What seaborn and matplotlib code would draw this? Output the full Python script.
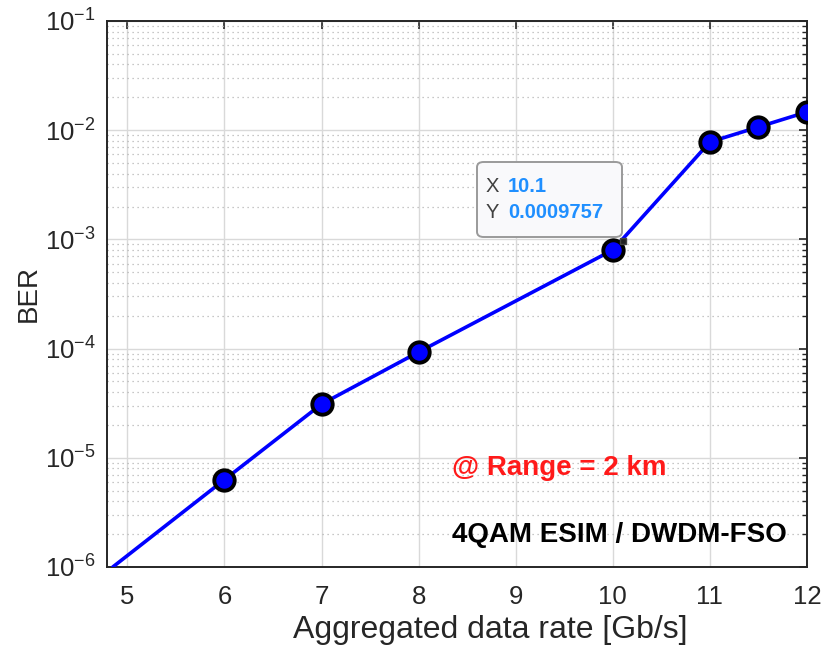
import numpy as np
import pandas as pd
import matplotlib
matplotlib.use("Agg")
import matplotlib.pyplot as plt
import seaborn as sns
from matplotlib.patches import FancyBboxPatch
from matplotlib.ticker import LogLocator, NullFormatter, FixedLocator

sns.set_style("white")
plt.rcParams["font.family"] = ["Liberation Sans", "DejaVu Sans"]
plt.rcParams["mathtext.fontset"] = "custom"
plt.rcParams["mathtext.rm"] = "Liberation Sans"

# data
rate = [4.85, 6, 7, 8, 10, 11, 11.5, 12]
ber = [1.0e-6, 6.3e-6, 3.1e-5, 9.3e-5, 8.0e-4, 7.8e-3, 1.07e-2, 1.47e-2]
marker_rate = rate[1:]
marker_ber = ber[1:]
tip_x, tip_y = 10.1, 0.0009757

BLUE = "#0000FF"
AXC = "#262626"

df = pd.DataFrame({"rate": rate, "ber": ber})
dm = pd.DataFrame({"rate": marker_rate, "ber": marker_ber})

fig = plt.figure(figsize=(8.26, 6.52), dpi=100)
ax = fig.add_axes([0.1295, 0.1304, 0.8475, 0.8374])

sns.lineplot(data=df, x="rate", y="ber", ax=ax, color=BLUE, linewidth=2.6,
             sort=False, zorder=3)
sns.scatterplot(data=dm, x="rate", y="ber", ax=ax, color=BLUE, s=215,
                edgecolor="black", linewidth=2.8, zorder=4)
ax.plot([tip_x], [tip_y], marker="s", color="#222222", markersize=4.5,
        markeredgecolor="#444444", zorder=5)

ax.set_yscale("log")
ax.set_xlim(4.79, 12)
ax.set_ylim(1e-6, 1e-1)
ax.xaxis.set_major_locator(FixedLocator(range(5, 13)))
ax.yaxis.set_major_locator(LogLocator(base=10, numticks=10))
ax.yaxis.set_minor_locator(LogLocator(base=10, subs=np.arange(2, 10), numticks=20))
ax.yaxis.set_minor_formatter(NullFormatter())

ax.grid(True, which="major", color="#d9d9d9", linewidth=1.0, linestyle="-")
ax.grid(True, which="minor", axis="y", color="#b5b5b5", linewidth=0.9,
        linestyle=(0, (1, 3)))
ax.set_axisbelow(True)

ax.tick_params(which="both", direction="in", top=True, right=True, colors=AXC,
               labelsize=18.5)
ax.tick_params(axis="x", pad=13)
ax.tick_params(axis="y", pad=8)
ax.tick_params(which="major", length=6, width=1.2)
ax.tick_params(which="minor", length=3.5, width=1.0)
for sp in ax.spines.values():
    sp.set_color(AXC)
    sp.set_linewidth(1.4)

ax.set_xlabel("Aggregated data rate [Gb/s]", fontsize=23, color=AXC)
ax.xaxis.set_label_coords(0.547, -0.088)
ax.set_ylabel("BER", fontsize=20, color=AXC, labelpad=2)

ax.text(0.493, 0.181, "@ Range = 2 km", transform=ax.transAxes, fontsize=20,
        fontweight="bold", color="#ff1a1a", va="center", ha="left")
ax.text(0.493, 0.059, "4QAM ESIM / DWDM-FSO", transform=ax.transAxes,
        fontsize=20, fontweight="bold", color="black", va="center", ha="left")

# data tip box (figure pixel layout: x 477-622, y 162-237 from top)
W, H = 826, 652
box = FancyBboxPatch((477 / W, 1 - 237 / H), 145 / W, 75 / H,
                     boxstyle="round,pad=0,rounding_size=0.008",
                     transform=fig.transFigure, fc="#f9f9fb", ec="#9a9a9a",
                     lw=1.4, zorder=6)
fig.patches.append(box)
for lab, val, ypx in [("X", "10.1", 187), ("Y", "0.0009757", 213)]:
    fig.text(486 / W, 1 - ypx / H, lab, fontsize=14.5, color="#404040",
             va="center", ha="left", zorder=7)
    fig.text(508 / W, 1 - ypx / H, val, fontsize=14.5, fontweight="bold",
             color="#1f8fff", va="center", ha="left", zorder=7)

fig.savefig("out.png", dpi=100)
